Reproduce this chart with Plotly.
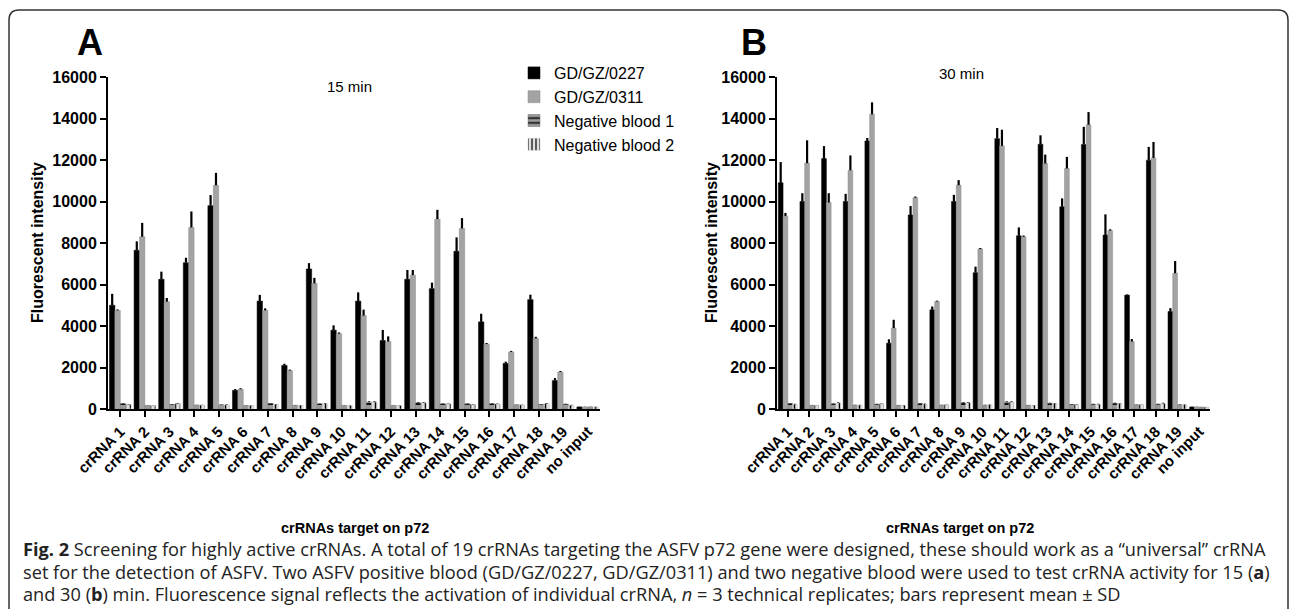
import plotly.graph_objects as go

W, H = 1290, 609

categories = [f"crRNA {i}" for i in range(1, 20)] + ["no input"]
series_names = ["GD/GZ/0227", "GD/GZ/0311", "Negative blood 1", "Negative blood 2"]

# 15 min (panel A)
a_0227 = [5000, 7650, 6250, 7050, 9800, 900, 5200, 2100, 6750, 3800, 5200, 3300, 6250, 5800, 7600, 4200, 2200, 5270, 1370, 100]
a_0227_sd = [550, 430, 370, 240, 510, 60, 300, 80, 280, 230, 420, 510, 450, 290, 670, 390, 80, 240, 120, 10]
a_0311 = [4750, 8300, 5170, 8750, 10780, 950, 4750, 1850, 6050, 3630, 4500, 3250, 6450, 9150, 8700, 3130, 2750, 3400, 1780, 100]
a_0311_sd = [50, 670, 180, 770, 600, 50, 100, 50, 270, 60, 290, 250, 250, 450, 500, 50, 50, 80, 50, 10]
a_neg1 = [260, 170, 220, 190, 200, 170, 270, 180, 250, 170, 330, 170, 300, 250, 250, 260, 200, 220, 230, 100]
a_neg1_sd = [20, 10, 20, 10, 20, 10, 20, 10, 20, 10, 40, 10, 30, 20, 20, 20, 10, 20, 20, 10]
a_neg2 = [220, 170, 260, 190, 200, 170, 220, 180, 250, 170, 330, 170, 300, 250, 220, 240, 200, 260, 180, 100]
a_neg2_sd = [20, 10, 30, 10, 20, 10, 20, 10, 30, 10, 40, 10, 30, 20, 20, 20, 10, 30, 20, 10]

# 30 min (panel B)
b_0227 = [10900, 10000, 12070, 10000, 12920, 3170, 9350, 4780, 10000, 6570, 13030, 8350, 12760, 9750, 12750, 8380, 5490, 11990, 4700, 100]
b_0227_sd = [1000, 400, 600, 370, 140, 190, 430, 160, 320, 290, 510, 400, 430, 400, 850, 1000, 30, 640, 160, 10]
b_0311 = [9300, 11850, 9950, 11500, 14200, 3900, 10180, 5180, 10790, 7710, 12680, 8300, 11830, 11590, 13700, 8600, 3250, 12100, 6540, 100]
b_0311_sd = [150, 1100, 450, 720, 580, 400, 60, 40, 240, 50, 780, 60, 430, 560, 610, 60, 120, 770, 590, 10]
b_neg1 = [270, 180, 250, 190, 230, 180, 270, 190, 300, 190, 330, 180, 280, 220, 230, 280, 200, 230, 200, 90]
b_neg1_sd = [20, 10, 20, 10, 20, 10, 20, 10, 30, 10, 40, 10, 20, 20, 20, 20, 10, 20, 20, 10]
b_neg2 = [230, 180, 290, 190, 250, 180, 240, 210, 300, 210, 330, 180, 270, 220, 230, 260, 210, 270, 200, 90]
b_neg2_sd = [20, 10, 30, 10, 20, 10, 20, 10, 30, 10, 40, 10, 20, 20, 20, 20, 10, 30, 20, 10]

y_ticks = [0, 2000, 4000, 6000, 8000, 10000, 12000, 14000, 16000]

panel_titles = ["15 min", "30 min"]
panel_letters = ["A", "B"]
y_title = "Fluorescent intensity"
x_title = "crRNAs target on p72"
caption_lines = [
    "<b>Fig. 2</b> Screening for highly active crRNAs. A total of 19 crRNAs targeting the ASFV p72 gene were designed, these should work as a \u201cuniversal\u201d crRNA",
    "set for the detection of ASFV. Two ASFV positive blood (GD/GZ/0227, GD/GZ/0311) and two negative blood were used to test crRNA activity for 15 (<b>a</b>)",
    "and 30 (<b>b</b>) min. Fluorescence signal reflects the activation of individual crRNA, <i>n</i> = 3 technical replicates; bars represent mean \u00b1 SD",
]

def px(x):
    return x / W

def py(y):
    return 1 - y / H

styles = [
    dict(color="#000000", line=dict(color="#000000", width=0.5)),
    dict(color="#a3a3a3", line=dict(color="#8a8a8a", width=0.5)),
    dict(color="#9a9a9a", line=dict(color="#777777", width=0.5),
         pattern=dict(shape="-", fgcolor="#000000", bgcolor="#9a9a9a", size=6, solidity=0.3)),
    dict(color="#dedede", line=dict(color="#c8c8c8", width=0.5),
         pattern=dict(shape="|", fgcolor="#000000", bgcolor="#dedede", size=5, solidity=0.3)),
]

fig = go.Figure()

panels = [
    ("x", "y", [a_0227, a_0311, a_neg1, a_neg2], [a_0227_sd, a_0311_sd, a_neg1_sd, a_neg2_sd], True),
    ("x2", "y2", [b_0227, b_0311, b_neg1, b_neg2], [b_0227_sd, b_0311_sd, b_neg1_sd, b_neg2_sd], False),
]
for xa, ya, vals, sds, show in panels:
    for name, v, sd, st in zip(series_names, vals, sds, styles):
        fig.add_trace(go.Bar(
            x=categories, y=v, name=name, xaxis=xa, yaxis=ya,
            marker=st, showlegend=show, legendgroup=name,
            error_y=dict(type="data", array=sd, arrayminus=[0] * len(sd), symmetric=False,
                         color="#000000", thickness=2.2, width=0),
        ))

tick_font = dict(family="Liberation Sans, Arial, sans-serif", size=16, color="#000000", weight="bold")
xtick_font = dict(family="Liberation Sans, Arial, sans-serif", size=15, color="#000000", weight="bold")

ydom = [py(409), py(77)]
common_y = dict(range=[0, 16000], tickvals=y_ticks, ticktext=[str(v) for v in y_ticks],
                ticks="outside", ticklen=6, tickwidth=2,
                tickcolor="#000", showline=True, linecolor="#000", linewidth=2, showgrid=False,
                zeroline=False, tickfont=tick_font, domain=ydom, fixedrange=True, automargin=False)
common_x = dict(ticks="outside", ticklen=6, tickwidth=2, tickcolor="#000", showline=True,
                linecolor="#000", linewidth=2, showgrid=False, tickangle=-45, tickfont=xtick_font,
                range=[-0.5, 19.5], type="category", automargin=False)

fig.update_layout(
    template="none",
    width=W, height=H,
    margin=dict(l=0, r=0, t=0, b=0, pad=0, autoexpand=False),
    paper_bgcolor="white", plot_bgcolor="white",
    barmode="group", bargap=0.12, bargroupgap=0,
    xaxis=dict(domain=[px(108), px(600)], anchor="y", **common_x),
    yaxis=dict(anchor="x", **common_y),
    xaxis2=dict(domain=[px(777), px(1210)], anchor="y2", **common_x),
    yaxis2=dict(anchor="x2", **common_y),
    legend=dict(x=px(514), y=py(56), xanchor="left", yanchor="top",
                font=dict(family="Liberation Sans, Arial, sans-serif", size=16, color="#000"),
                bgcolor="rgba(0,0,0,0)", tracegroupgap=0, itemwidth=30),
    showlegend=True,
)

ann = []
for letter, xp in zip(panel_letters, [90, 754]):
    ann.append(dict(text=letter, x=px(xp), y=py(42), xref="paper", yref="paper",
                    showarrow=False, xanchor="center", yanchor="middle",
                    font=dict(family="Liberation Sans, Arial, sans-serif", size=36, color="#000", weight="bold")))
for t, xp, yp in zip(panel_titles, [349, 962], [87, 74]):
    ann.append(dict(text=t, x=px(xp), y=py(yp), xref="paper", yref="paper", showarrow=False,
                    xanchor="center", yanchor="middle",
                    font=dict(family="Liberation Sans, Arial, sans-serif", size=15, color="#000")))
for xp in [37, 711]:
    ann.append(dict(text=y_title, x=px(xp), y=py(243), xref="paper", yref="paper", showarrow=False,
                    textangle=-90, xanchor="center", yanchor="middle",
                    font=dict(family="Liberation Sans, Arial, sans-serif", size=16, color="#000", weight="bold")))
for xp in [355, 960]:
    ann.append(dict(text=x_title, x=px(xp), y=py(528), xref="paper", yref="paper", showarrow=False,
                    xanchor="center", yanchor="middle",
                    font=dict(family="Liberation Sans, Arial, sans-serif",
                              size=14.5, color="#000", weight="bold")))
for line, yp in zip(caption_lines, [549, 572, 594]):
    ann.append(dict(text=line, x=px(21), y=py(yp), xref="paper", yref="paper", showarrow=False,
                    xanchor="left", yanchor="middle", align="left",
                    font=dict(family="Open Sans, Noto Sans, sans-serif", size=18.2, color="#222")))
fig.update_layout(annotations=ann)

def frame_path(x0, y0, x1, y1, r):
    return (f"M {px(x0)},{py(y1)} L {px(x0)},{py(y0 + r)} Q {px(x0)},{py(y0)} {px(x0 + r)},{py(y0)} "
            f"L {px(x1 - r)},{py(y0)} Q {px(x1)},{py(y0)} {px(x1)},{py(y0 + r)} L {px(x1)},{py(y1)}")

fig.add_shape(type="path", path=frame_path(9, 10, 1288, 640, 10), xref="paper", yref="paper",
              line=dict(color="#333333", width=1.5))

fig.write_html("out.html", config={"displayModeBar": False},
               post_script="document.body.style.margin='0';document.body.style.overflow='hidden';")
